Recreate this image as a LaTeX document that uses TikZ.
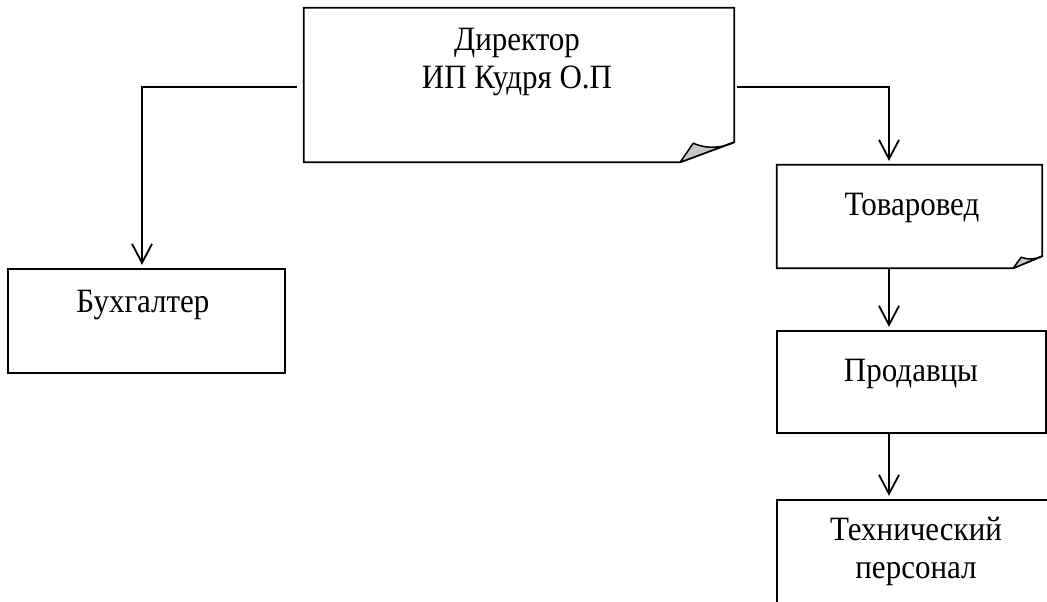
\documentclass[tikz,border=0pt]{standalone}
\usepackage{fontspec}
\usepackage{graphicx}
\setmainfont{Liberation Serif}
\usetikzlibrary{arrows.meta,calc}
\newcommand\tallt[1]{\scalebox{1}[1.1]{#1}}
\begin{document}
\begin{tikzpicture}[x=1pt,y=-1pt,
  area/.style={draw=none,inner sep=0pt,minimum width=#1},
  boxline/.style={line width=1.8pt,line join=miter},
  fold/.style={line width=1.5pt,fill=black!22,line join=round},
  lbl/.style={inner sep=0pt,font=\fontsize{31}{38}\selectfont,align=center},
  arr/.style={line width=1.8pt,-{Straight Barb[length=19pt,width=20pt,line width=1.8pt]},shorten >=4pt}]
\useasboundingbox (0,0) rectangle (1047,602);
\clip (0,0) rectangle (1047,602);
% box areas
\node[area=430, minimum height=154] (dir) at (519,85) {};
\node[area=277, minimum height=104] (buh) at (146.5,321) {};
\node[area=265, minimum height=103] (tov) at (909.5,216.5) {};
\node[area=269, minimum height=102] (prod) at (911.5,382) {};
\node[area=276, minimum height=106] (tech) at (915,553) {};
% director (folded corner)
\draw[boxline] (dir.north west) -- (dir.north east) -- ($(dir.south east)+(0,-20)$)
  -- ($(dir.south east)+(-54,0)$) -- (dir.south west) -- cycle;
\draw[fold] ($(dir.south east)+(-54,0)$) -- ($(dir.south east)+(-41,-19)$)
  .. controls ($(dir.south east)+(-28,-13)$) and ($(dir.south east)+(-12,-14)$) .. ($(dir.south east)+(0,-20)$) -- cycle;
% tovaroved (folded corner)
\draw[boxline] (tov.north west) -- (tov.north east) -- ($(tov.south east)+(0,-12)$)
  -- ($(tov.south east)+(-29,0)$) -- (tov.south west) -- cycle;
\draw[fold] ($(tov.south east)+(-29,0)$) -- ($(tov.south east)+(-21,-11)$)
  .. controls ($(tov.south east)+(-14,-8)$) and ($(tov.south east)+(-6,-9)$) .. ($(tov.south east)+(0,-12)$) -- cycle;
% plain boxes
\draw[boxline] (buh.north west) rectangle (buh.south east);
\draw[boxline] (prod.north west) rectangle (prod.south east);
\draw[boxline] (tech.north west) rectangle (tech.south east);
% texts
\node[lbl,anchor=north] (dirt) at (517,28) {\tallt{Директор}\\\tallt{ИП Кудря О.П}};
\node[lbl,anchor=base] (buht) at (143,312) {\tallt{Бухгалтер}};
\node[lbl,anchor=base] (tovt) at (912,215) {\tallt{Товаровед}};
\node[lbl,anchor=base] (prodt) at (911,381) {\tallt{Продавцы}};
\node[lbl,anchor=north] (techt) at (916,517) {\tallt{Технический}\\\tallt{персонал}};
% connectors
\coordinate (lx) at (142,0);
\coordinate (rx) at (889,0);
\draw[arr] ($(dir.west)+(-7,2)$) -| (buh.north -| lx);
\draw[arr] ($(dir.east)+(3,2)$) -| (tov.north -| rx);
\draw[arr] (tov.south -| rx) -- (prod.north -| rx);
\draw[arr] (prod.south -| rx) -- (tech.north -| rx);
\end{tikzpicture}
\end{document}
